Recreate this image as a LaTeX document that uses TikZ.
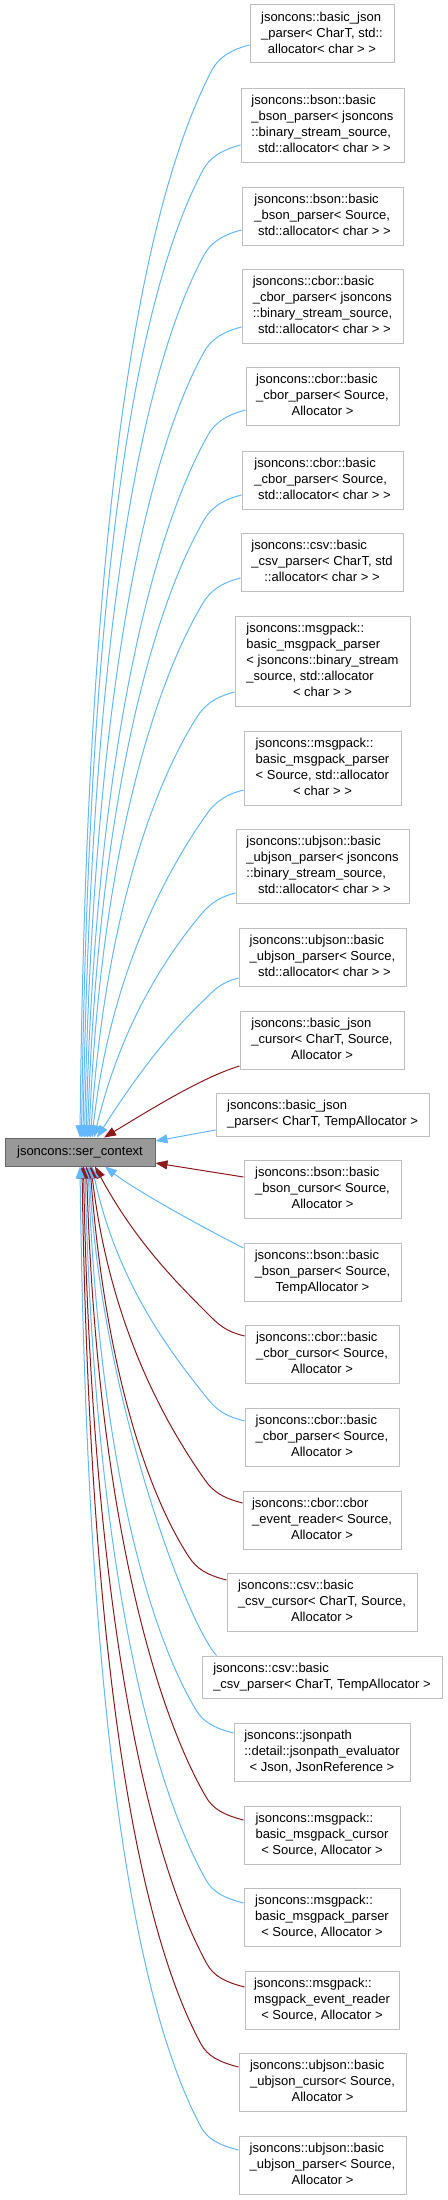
\documentclass[tikz,border=0pt]{standalone}
\usepackage{fontspec}
\setmainfont{Liberation Sans}
\usetikzlibrary{arrows.meta}
\definecolor{boxgray}{HTML}{BFBFBF}
\definecolor{maingray}{HTML}{999999}
\definecolor{mainborder}{HTML}{666666}
\definecolor{edgeblue}{HTML}{63B8FF}
\definecolor{edgered}{HTML}{8B1A1A}
\newcommand\lbl[2]{\begin{tabular}{@{}l@{}}#1\\\multicolumn{1}{@{}c@{}}{#2}\end{tabular}}
\newcommand\upedge[5]{%
  \pgfmathsetmacro\ePx{#2-38}%
  \pgfmathsetmacro\ePy{#3+25}%
  \pgfmathsetmacro\eH{1138-\ePy}%
  \pgfmathsetmacro\eS{0.45+80/\eH}%
  \pgfmathsetmacro\eL{0.14*\eH+8}%
  \pgfmathsetmacro\eAx{#2-20}%
  \pgfmathsetmacro\eAy{#3+5}%
  \pgfmathsetmacro\eBx{\ePx+12*\eS}%
  \pgfmathsetmacro\eBy{\ePy-12}%
  \pgfmathsetmacro\eCx{\ePx-\eS*\eL}%
  \pgfmathsetmacro\eCy{\ePy+\eL}%
  \pgfmathsetmacro\eDx{#4+6000/\eH}%
  \pgfmathsetmacro\eDy{1138-0.52*\eH}%
  \draw[#5] (#1.west |- 0,-#3) .. controls (\eAx,-\eAy) and (\eBx,-\eBy) .. (\ePx,-\ePy) .. controls (\eCx,-\eCy) and (\eDx,-\eDy) .. (main.north -| #4,0);%
}
\newcommand\downedge[5]{%
  \pgfmathsetmacro\ePx{#2-38}%
  \pgfmathsetmacro\ePy{#3-23}%
  \pgfmathsetmacro\eH{\ePy-1166}%
  \pgfmathsetmacro\eS{0.45+80/\eH}%
  \pgfmathsetmacro\eL{0.14*\eH+8}%
  \pgfmathsetmacro\eAx{#2-20}%
  \pgfmathsetmacro\eAy{#3-5}%
  \pgfmathsetmacro\eBx{\ePx+12*\eS}%
  \pgfmathsetmacro\eBy{\ePy+12}%
  \pgfmathsetmacro\eCx{\ePx-\eS*\eL}%
  \pgfmathsetmacro\eCy{\ePy-\eL}%
  \pgfmathsetmacro\eDx{#4+6000/\eH}%
  \pgfmathsetmacro\eDy{1166+0.52*\eH}%
  \draw[#5] (#1.west |- 0,-#3) .. controls (\eAx,-\eAy) and (\eBx,-\eBy) .. (\ePx,-\ePy) .. controls (\eCx,-\eCy) and (\eDx,-\eDy) .. (main.south -| #4,0);%
}
\begin{document}
\begin{tikzpicture}[x=1pt,y=1pt,
  box/.style={draw=boxgray, fill=white, line width=1pt, inner sep=0pt, font=\fontsize{13}{16}\selectfont},
  mainbox/.style={draw=mainborder, fill=maingray, line width=1pt, inner sep=0pt, font=\fontsize{13}{16}\selectfont},
  bl/.style={draw=edgeblue, line width=1pt, -{Triangle[length=12pt,width=9pt]}, edgeblue},
  rd/.style={draw=edgered, line width=1pt, -{Triangle[length=12pt,width=9pt]}, edgered}]
\fill[white] (0,0) rectangle (447,-2200);
\useasboundingbox (0,0) rectangle (447,-2200);

\node[mainbox, minimum width=150pt, minimum height=28pt] (main) at (80,-1152) {jsoncons::ser\_context};

\node[box, minimum width=144pt, minimum height=58pt] (b1) at (322,-34) {\lbl{jsoncons::basic\_json\\\_parser< CharT, std::}{allocator< char > >}};
\node[box, minimum width=163pt, minimum height=74pt] (b2) at (322.5,-125) {\lbl{jsoncons::bson::basic\\\_bson\_parser< jsoncons\\::binary\_stream\_source,}{\ std::allocator< char > >}};
\node[box, minimum width=161pt, minimum height=58pt] (b3) at (322.5,-216) {\lbl{jsoncons::bson::basic\\\_bson\_parser< Source,}{\ std::allocator< char > >}};
\node[box, minimum width=161pt, minimum height=74pt] (b4) at (322.5,-306) {\lbl{jsoncons::cbor::basic\\\_cbor\_parser< jsoncons\\::binary\_stream\_source,}{\ std::allocator< char > >}};
\node[box, minimum width=153pt, minimum height=58pt] (b5) at (322.5,-396.5) {\lbl{jsoncons::cbor::basic\\\_cbor\_parser< Source,}{Allocator >}};
\node[box, minimum width=161pt, minimum height=58pt] (b6) at (322.5,-480) {\lbl{jsoncons::cbor::basic\\\_cbor\_parser< Source,}{\ std::allocator< char > >}};
\node[box, minimum width=162pt, minimum height=58pt] (b7) at (322,-562) {\lbl{jsoncons::csv::basic\\\_csv\_parser< CharT, std}{::allocator< char > >}};
\node[box, minimum width=175pt, minimum height=90pt] (b8) at (322.5,-661) {\lbl{jsoncons::msgpack::\\basic\_msgpack\_parser\\< jsoncons::binary\_stream\\\_source, std::allocator}{< char > >}};
\node[box, minimum width=157pt, minimum height=74pt] (b9) at (322.5,-768) {\lbl{jsoncons::msgpack::\\basic\_msgpack\_parser\\< Source, std::allocator}{< char > >}};
\node[box, minimum width=173pt, minimum height=74pt] (b10) at (322.5,-866) {\lbl{jsoncons::ubjson::basic\\\_ubjson\_parser< jsoncons\\::binary\_stream\_source,}{\ std::allocator< char > >}};
\node[box, minimum width=167pt, minimum height=58pt] (b11) at (322.5,-957.5) {\lbl{jsoncons::ubjson::basic\\\_ubjson\_parser< Source,}{\ std::allocator< char > >}};
\node[box, minimum width=164pt, minimum height=58pt] (b12) at (322,-1040) {\lbl{jsoncons::basic\_json\\\_cursor< CharT, Source,}{Allocator >}};
\node[box, minimum width=213pt, minimum height=43pt] (b13) at (322.5,-1114.5) {\lbl{jsoncons::basic\_json}{\_parser< CharT, TempAllocator >}};
\node[box, minimum width=157pt, minimum height=58pt] (b14) at (322.5,-1189) {\lbl{jsoncons::bson::basic\\\_bson\_cursor< Source,}{Allocator >}};
\node[box, minimum width=157pt, minimum height=58pt] (b15) at (322.5,-1272) {\lbl{jsoncons::bson::basic\\\_bson\_parser< Source,}{TempAllocator >}};
\node[box, minimum width=154pt, minimum height=58pt] (b16) at (322,-1354.5) {\lbl{jsoncons::cbor::basic\\\_cbor\_cursor< Source,}{Allocator >}};
\node[box, minimum width=154pt, minimum height=58pt] (b17) at (322,-1437) {\lbl{jsoncons::cbor::basic\\\_cbor\_parser< Source,}{Allocator >}};
\node[box, minimum width=158pt, minimum height=58pt] (b18) at (322,-1520) {\lbl{jsoncons::cbor::cbor\\\_event\_reader< Source,}{Allocator >}};
\node[box, minimum width=190pt, minimum height=58pt] (b19) at (322,-1602.5) {\lbl{jsoncons::csv::basic\\\_csv\_cursor< CharT, Source,}{Allocator >}};
\node[box, minimum width=240pt, minimum height=42pt] (b20) at (322,-1677) {\lbl{jsoncons::csv::basic}{\_csv\_parser< CharT, TempAllocator >}};
\node[box, minimum width=176pt, minimum height=58pt] (b21) at (322,-1752) {\lbl{jsoncons::jsonpath\\::detail::jsonpath\_evaluator}{< Json, JsonReference >}};
\node[box, minimum width=156pt, minimum height=58pt] (b22) at (322,-1835) {\lbl{jsoncons::msgpack::\\basic\_msgpack\_cursor}{< Source, Allocator >}};
\node[box, minimum width=156pt, minimum height=58pt] (b23) at (322,-1917.5) {\lbl{jsoncons::msgpack::\\basic\_msgpack\_parser}{< Source, Allocator >}};
\node[box, minimum width=154pt, minimum height=58pt] (b24) at (322,-2000) {\lbl{jsoncons::msgpack::\\msgpack\_event\_reader}{< Source, Allocator >}};
\node[box, minimum width=167pt, minimum height=58pt] (b25) at (322.5,-2082.5) {\lbl{jsoncons::ubjson::basic\\\_ubjson\_cursor< Source,}{Allocator >}};
\node[box, minimum width=167pt, minimum height=58pt] (b26) at (322.5,-2165.5) {\lbl{jsoncons::ubjson::basic\\\_ubjson\_parser< Source,}{Allocator >}};

% edges to the top of the base class
\upedge{b1}{250}{45}{80}{bl}
\upedge{b2}{241}{145}{81.5}{bl}
\upedge{b3}{242}{230}{83}{bl}
\upedge{b4}{242}{327}{84.5}{bl}
\upedge{b5}{246}{410}{86}{bl}
\upedge{b6}{242}{495}{87.5}{bl}
\upedge{b7}{241}{578}{89}{bl}
\upedge{b8}{235}{692}{90.5}{bl}
\upedge{b9}{244}{790}{92}{bl}
\upedge{b10}{236}{893}{94}{bl}
\upedge{b11}{239}{978}{97}{bl}
\draw[rd] (b12.west |- 0,-1066) .. controls (200,-1078) and (145,-1113) .. (main.north -| 104,0);

% edges to the right side
\draw[bl] (b13.west |- 0,-1130) -- (main.east |- 0,-1141);
\draw[rd] (b14.west |- 0,-1177) -- (main.east |- 0,-1163);

% edges to the bottom of the base class
\draw[bl] (b15.west |- 0,-1248) .. controls (200,-1226) and (135,-1190) .. (main.south -| 105,0);
\downedge{b16}{245}{1336}{95}{rd}
\downedge{b17}{245}{1421}{92}{bl}
\downedge{b18}{243}{1503}{91}{rd}
\downedge{b19}{227}{1580}{90}{rd}
\draw[bl] ([xshift=15pt]b20.north west) .. controls (185,-1620) and (100,-1390) .. (main.south -| 89,0);
\downedge{b21}{234}{1733}{88}{bl}
\downedge{b22}{244}{1820}{86.5}{rd}
\downedge{b23}{244}{1903}{85}{bl}
\downedge{b24}{245}{1987}{83.5}{rd}
\downedge{b25}{239}{2067}{82}{rd}
\downedge{b26}{239}{2150}{80}{bl}
\end{tikzpicture}
\end{document}
